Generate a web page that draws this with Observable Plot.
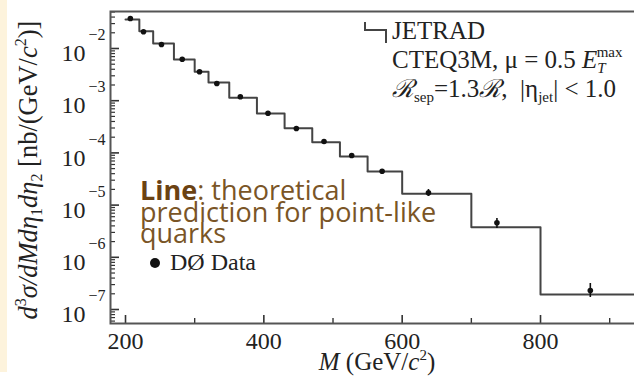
<!DOCTYPE html>
<html><head><meta charset="utf-8">
<script src="https://cdn.jsdelivr.net/npm/d3@7"></script>
<script src="https://cdn.jsdelivr.net/npm/@observablehq/plot@0.6"></script>
<style>
body{margin:0;background:#fff;}
#wrap{position:relative;width:634px;height:382px;overflow:hidden;background:#fff;}
#strip{position:absolute;left:0;top:0;width:7px;height:372px;background:#fdf3dc;z-index:2;}
#wrap svg{max-width:none !important;position:absolute;left:0;top:0;}
</style></head><body>
<div id="wrap"><div id="strip"></div></div>
<script>
// JETRAD prediction: bin edges (GeV/c^2) and cross sections (nb/(GeV/c^2))
const binEdges = [200,220,240,270,300,320,350,390,430,470,510,550,600,700,800,1000];
const theory = [3.6e-2,2.14e-2,1.25e-2,6.15e-3,3.58e-3,2.23e-3,1.14e-3,5.69e-4,2.97e-4,1.60e-4,8.53e-5,4.40e-5,1.65e-5,3.77e-6,1.94e-7];
// DØ data
const dataMass = [207,226,252,282,307,332,366,406,447,487,527,571,638,737,872];
const dataXsec = [3.76e-2,2.09e-2,1.19e-2,6.24e-3,3.58e-3,2.14e-3,1.19e-3,5.75e-4,2.93e-4,1.65e-4,8.91e-5,4.46e-5,1.72e-5,4.58e-6,2.31e-7];
const errLow  = [null,null,null,null,null,null,null,null,null,null,null,null,1.46e-5,3.56e-6,1.70e-7];
const errHigh = [null,null,null,null,null,null,null,null,null,null,null,null,1.99e-5,5.53e-6,3.15e-7];
// ticks
const xTickLabels = [200,400,600,800];
const xMinorTicks = [300,500,700,900];
const yDecades = [1e-2,1e-3,1e-4,1e-5,1e-6,1e-7];

const W = 646, H = 382, mL = 110, mR = 10, mT = 11, mB = 59;
const plotW = W - mL - mR, plotH = H - mT - mB;
const yDom = [Math.pow(10,-7.268), Math.pow(10,-1.2912)];

const stepData = theory.map((v,i)=>({x: binEdges[i], y: v}));
stepData.push({x: binEdges[binEdges.length-1], y: theory[theory.length-1]});
const points = dataMass.map((m,i)=>({x:m, y:dataXsec[i], lo:errLow[i], hi:errHigh[i]}));
const errs = points.filter(d=>d.lo!=null);

const yMinor = [];
for (let k=-8;k<=-2;k++) for (let m=2;m<=9;m++){const v=m*Math.pow(10,k); if(v>yDom[0]&&v<yDom[1]) yMinor.push(v);}

const chart = Plot.plot({
  width: W, height: H,
  marginLeft: mL, marginRight: mR, marginTop: mT, marginBottom: mB,
  style: {fontFamily: "'Liberation Serif', 'DejaVu Serif', serif", fontSize: "24px", color: "#222", background: "transparent", maxWidth: "none"},
  x: {type: "linear", domain: [178.3, 178.3 + plotW/0.69167]},
  y: {type: "log", domain: yDom},
  marks: [
    Plot.tickY(yMinor, {y: d=>d, insetRight: plotW-5, stroke: "#333", strokeWidth: 1.2}),
    Plot.tickY(yDecades, {y: d=>d, insetRight: plotW-9, stroke: "#333", strokeWidth: 1.6}),
    Plot.tickX(xMinorTicks, {x: d=>d, insetTop: plotH-5, stroke: "#333", strokeWidth: 1.4}),
    Plot.tickX(xTickLabels, {x: d=>d, insetTop: plotH-8, stroke: "#333", strokeWidth: 1.6}),
    Plot.line(stepData, {x: "x", y: "y", curve: "step-after", stroke: "#444", strokeWidth: 2, clip: true}),
    Plot.ruleX(errs, {x: "x", y1: "lo", y2: "hi", stroke: "#111", strokeWidth: 1.6}),
    Plot.dot(points, {x: "x", y: "y", r: 2.8, fill: "#111", stroke: "none"}),
    Plot.frame({stroke: "#555", strokeWidth: 2}),
    Plot.axisX({ticks: xTickLabels, tickSize: 0, tickPadding: 8, tickFormat: d=>String(d), label: null, fontSize: 24}),
    Plot.axisY({ticks: yDecades, tickSize: 0, tickPadding: 5, dy: 5, tickFormat: d=>String(Math.round(Math.log10(d))), label: null, fontSize: 24})
  ]
});
chart.style.maxWidth = "none";
document.getElementById("wrap").appendChild(chart);
const svg = d3.select(chart);

// exponent-style y tick labels
svg.selectAll('g[aria-label="y-axis tick label"] text').each(function(){
  const e = this.textContent.replace("-", "\u2212");
  const t = d3.select(this); t.text("");
  t.append("tspan").text("10");
  t.append("tspan").attr("dx", 3).attr("dy", -21).attr("font-size", 16).text(e);
});

// rich text helper
function rich(g, x, y, parts, attrs={}) {
  const t = g.append("text").attr("x", x).attr("y", y);
  for (const k in attrs) t.attr(k, attrs[k]);
  let prev = 0;
  for (const [s, o={}] of parts) {
    const sp = t.append("tspan").text(s);
    const sh = o.shift || 0;
    if (sh !== prev) sp.attr("dy", sh - prev);
    prev = sh;
    if (o.it) sp.attr("font-style", "italic");
    if (o.size) sp.attr("font-size", o.size);
    if (o.dx) sp.attr("dx", o.dx);
    if (o.weight) sp.attr("font-weight", o.weight);
    if (o.fill) sp.attr("fill", o.fill);
  }
  return t;
}
const g = svg.append("g").attr("fill", "#222").attr("text-anchor", "start")
  .attr("font-family", "'Liberation Serif', 'DejaVu Serif', serif").attr("font-size", 24);

// y title
rich(g, 0, 0, [
  ["d", {it:1}], ["3", {size:16, shift:-11}], ["σ/", {it:1}], ["dMd", {it:1}], ["η", {it:1}],
  ["1", {size:16, shift:5}], ["d", {it:1}], ["η", {it:1}], ["2", {size:16, shift:5}],
  [" [nb/(GeV/"], ["c", {it:1}], ["2", {size:16, shift:-11}], [")]"]
], {"text-anchor": "middle", "font-size": 26.5, transform: "translate(37,170) rotate(-90)"});

// x title
rich(g, 377, 370, [["M", {it:1}], [" (GeV/"], ["c", {it:1}], ["2", {size:15, shift:-10}], [")"]], {"text-anchor": "middle", "font-size": 25});

// legend
g.append("path").attr("d", "M365,22V30H386V43").attr("fill", "none").attr("stroke", "#444").attr("stroke-width", 2);
const lg = g.append("g").attr("font-size", 25);
rich(lg, 392, 39, [["JETRAD"]]);
rich(lg, 392, 68, [["CTEQ3M, μ = 0.5 "], ["E", {it:1}], ["T", {it:1, size:15, shift:5}], ["max", {size:15, shift:-11, dx:-9}]]);
rich(lg, 392, 97, [["ℛ", {it:1}], ["sep", {size:15, shift:5}], ["=1.3"], ["ℛ", {it:1}], [",  |η"], ["jet", {size:15, shift:5}], ["| < 1.0"]]);

// data legend
g.append("circle").attr("cx", 155).attr("cy", 263).attr("r", 5).attr("fill", "#111");
rich(g, 170, 270, [["DØ Data"]]);

// brown annotation
const bg = g.append("g").attr("font-family", "'Open Sans', sans-serif").attr("font-size", 27).attr("fill", "#7a5526");
rich(bg, 140, 200, [["Line", {weight: 700, fill: "#6b4212"}], [": theoretical"]]);
rich(bg, 140, 222, [["prediction for point-like"]]);
rich(bg, 140, 243, [["quarks"]]);
</script>
</body></html>
